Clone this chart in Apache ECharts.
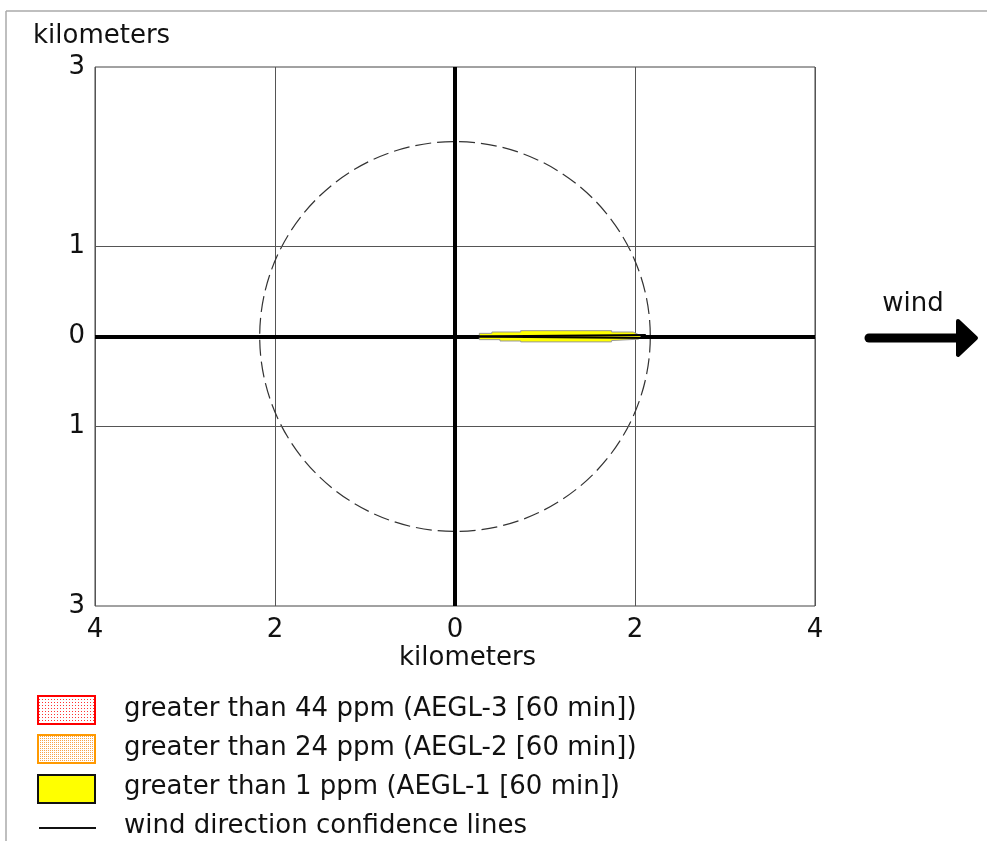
<!DOCTYPE html>
<html>
<head>
<meta charset="utf-8">
<script src="https://cdn.jsdelivr.net/npm/echarts@6/dist/echarts.min.js"></script>
<style>
  html, body { margin: 0; padding: 0; background: #fff; }
  #main { width: 987px; height: 841px; }
</style>
</head>
<body>
<div id="main"></div>
<script>
// axis ticks (km)
var xTickValues = [-4, -2, 0, 2, 4];
var yTickValues = [-3, -1, 0, 1, 3];

// threat zone footprint (km downwind, km crosswind)
var plumeUpper = [[0.27, 0], [0.27, 0.035], [0.41, 0.035], [0.41, 0.05], [0.73, 0.05], [0.73, 0.065],
                  [1.74, 0.065], [1.74, 0.05], [1.98, 0.05], [2.04, 0.02], [2.06, 0]];
var plumeLower = [[2.06, 0], [2.04, -0.03], [1.74, -0.045], [1.74, -0.06], [0.73, -0.06], [0.73, -0.05],
                  [0.5, -0.05], [0.5, -0.035], [0.27, -0.035]];

// wind direction confidence lines
var confidenceLines = [
    [[0.15, 0], [2.12, 0.016]],
    [[0.15, 0], [2.12, -0.016]]
];

// dashed circle: [x, y, radius km]
var circleData = [[0, 0, 2.17]];

var legendLabels = [
    'greater than 44 ppm (AEGL-3 [60 min])',
    'greater than 24 ppm (AEGL-2 [60 min])',
    'greater than 1 ppm (AEGL-1 [60 min])',
    'wind direction confidence lines'
];

var FONT = 'DejaVu Sans';
var FS = 26;

function dotPattern(color, step) {
    var c = document.createElement('canvas');
    c.width = step; c.height = step;
    var ctx = c.getContext('2d');
    ctx.fillStyle = '#fff';
    ctx.fillRect(0, 0, step, step);
    ctx.fillStyle = color;
    ctx.fillRect(0, 0, 1, 1);
    return { image: c, repeat: 'repeat' };
}

function drawChart() {
    var myChart = echarts.init(document.getElementById('main'));

    var plumePoints = plumeUpper.concat(plumeLower);
    var font = FS + 'px "' + FONT + '"';

    var legendGraphics = [];
    var rowY = [709, 748, 787, 826];
    legendGraphics.push({
        type: 'rect', shape: { x: 38, y: 696, width: 57, height: 28 },
        style: { fill: dotPattern('#f33', 3), stroke: '#f00', lineWidth: 2 }
    });
    legendGraphics.push({
        type: 'rect', shape: { x: 38, y: 735, width: 57, height: 28 },
        style: { fill: dotPattern('#f7a34a', 2), stroke: '#ff9900', lineWidth: 2 }
    });
    legendGraphics.push({
        type: 'rect', shape: { x: 38, y: 775, width: 57, height: 28 },
        style: { fill: '#ffff00', stroke: '#111', lineWidth: 2 }
    });
    legendGraphics.push({
        type: 'line', shape: { x1: 39, y1: 828, x2: 96, y2: 828 },
        style: { stroke: '#111', lineWidth: 2 }
    });
    for (var i = 0; i < legendLabels.length; i++) {
        legendGraphics.push({
            type: 'text', x: 124, y: rowY[i],
            style: { text: legendLabels[i], font: font, fill: '#111', verticalAlign: 'middle' }
        });
    }

    var option = {
        animation: false,
        backgroundColor: '#fff',
        grid: {
            show: true,
            left: 95,
            top: 67,
            right: 172,
            bottom: 235,
            borderColor: '#444',
            borderWidth: 1
        },
        xAxis: {
            type: 'value',
            min: -4,
            max: 4,
            interval: 2,
            axisLine: { show: false },
            axisTick: { show: false },
            axisLabel: {
                margin: 11,
                color: '#111',
                fontFamily: FONT,
                fontSize: FS,
                formatter: function (v) { return xTickValues.indexOf(v) >= 0 ? String(Math.abs(v)) : ''; }
            },
            splitLine: { show: true, lineStyle: { color: '#555', width: 1 } }
        },
        yAxis: {
            type: 'value',
            min: -3,
            max: 3,
            interval: 1,
            axisLine: { show: false },
            axisTick: { show: false },
            axisLabel: {
                margin: 10,
                color: '#111',
                fontFamily: FONT,
                fontSize: FS,
                formatter: function (v) { return yTickValues.indexOf(v) >= 0 ? String(Math.abs(v)) : ''; }
            },
            splitLine: { show: false }
        },
        series: [
            {
                // horizontal grid lines and the two heavy zero lines
                type: 'line',
                data: [],
                silent: true,
                markLine: {
                    silent: true,
                    symbol: 'none',
                    label: { show: false },
                    data: yTickValues.filter(function (v) { return v !== 0 && Math.abs(v) !== 3; }).map(function (v) {
                        return { yAxis: v, lineStyle: { color: '#555', width: 1, type: 'solid' } };
                    }).concat([
                        { yAxis: 0, lineStyle: { color: '#000', width: 4, type: 'solid' } },
                        { xAxis: 0, lineStyle: { color: '#000', width: 4, type: 'solid' } }
                    ])
                }
            },
            {
                type: 'custom',
                name: 'circle',
                silent: true,
                data: circleData,
                renderItem: function (params, api) {
                    var c = api.coord([api.value(0), api.value(1)]);
                    var s = api.size([api.value(2), api.value(2)]);
                    return {
                        type: 'circle',
                        shape: { cx: c[0], cy: c[1], r: s[0] },
                        scaleY: s[1] / s[0],
                        originX: c[0],
                        originY: c[1],
                        style: { fill: 'none', stroke: '#333', lineWidth: 1.2, lineDash: [16, 6] }
                    };
                }
            },
            {
                type: 'custom',
                name: 'AEGL-1',
                silent: true,
                z: 5,
                data: [0],
                renderItem: function (params, api) {
                    var pts = plumePoints.map(function (p) { return api.coord(p); });
                    return {
                        type: 'polygon',
                        shape: { points: pts },
                        style: { fill: '#ffff00', stroke: '#999', lineWidth: 1 }
                    };
                }
            },
            {
                type: 'custom',
                name: 'confidence',
                silent: true,
                z: 6,
                data: confidenceLines.map(function (l, i) { return [i]; }),
                renderItem: function (params, api) {
                    var l = confidenceLines[params.dataIndex];
                    var a = api.coord(l[0]);
                    var b = api.coord(l[1]);
                    return {
                        type: 'line',
                        shape: { x1: a[0], y1: a[1], x2: b[0], y2: b[1] },
                        style: { stroke: '#000', lineWidth: 2 }
                    };
                }
            }
        ],
        graphic: [
            // frame
            { type: 'line', shape: { x1: 6, y1: 11, x2: 987, y2: 11 }, style: { stroke: '#aaa', lineWidth: 1.5 } },
            { type: 'line', shape: { x1: 6, y1: 11, x2: 6, y2: 841 }, style: { stroke: '#aaa', lineWidth: 1.5 } },
            // axis names
            { type: 'text', x: 33, y: 36, style: { text: 'kilometers', font: font, fill: '#111', verticalAlign: 'middle' } },
            { type: 'text', x: 399, y: 658, style: { text: 'kilometers', font: font, fill: '#111', verticalAlign: 'middle' } },
            // wind arrow
            { type: 'text', x: 913, y: 304, style: { text: 'wind', font: font, fill: '#111', align: 'center', verticalAlign: 'middle' } },
            { type: 'line', shape: { x1: 869, y1: 338, x2: 960, y2: 338 }, style: { stroke: '#000', lineWidth: 9, lineCap: 'round' } },
            { type: 'polygon', shape: { points: [[958, 321], [976, 338], [958, 355]] },
              style: { fill: '#000', stroke: '#000', lineWidth: 4, lineJoin: 'round' } }
        ].concat(legendGraphics)
    };

    myChart.setOption(option);
}

drawChart();
</script>
</body>
</html>
